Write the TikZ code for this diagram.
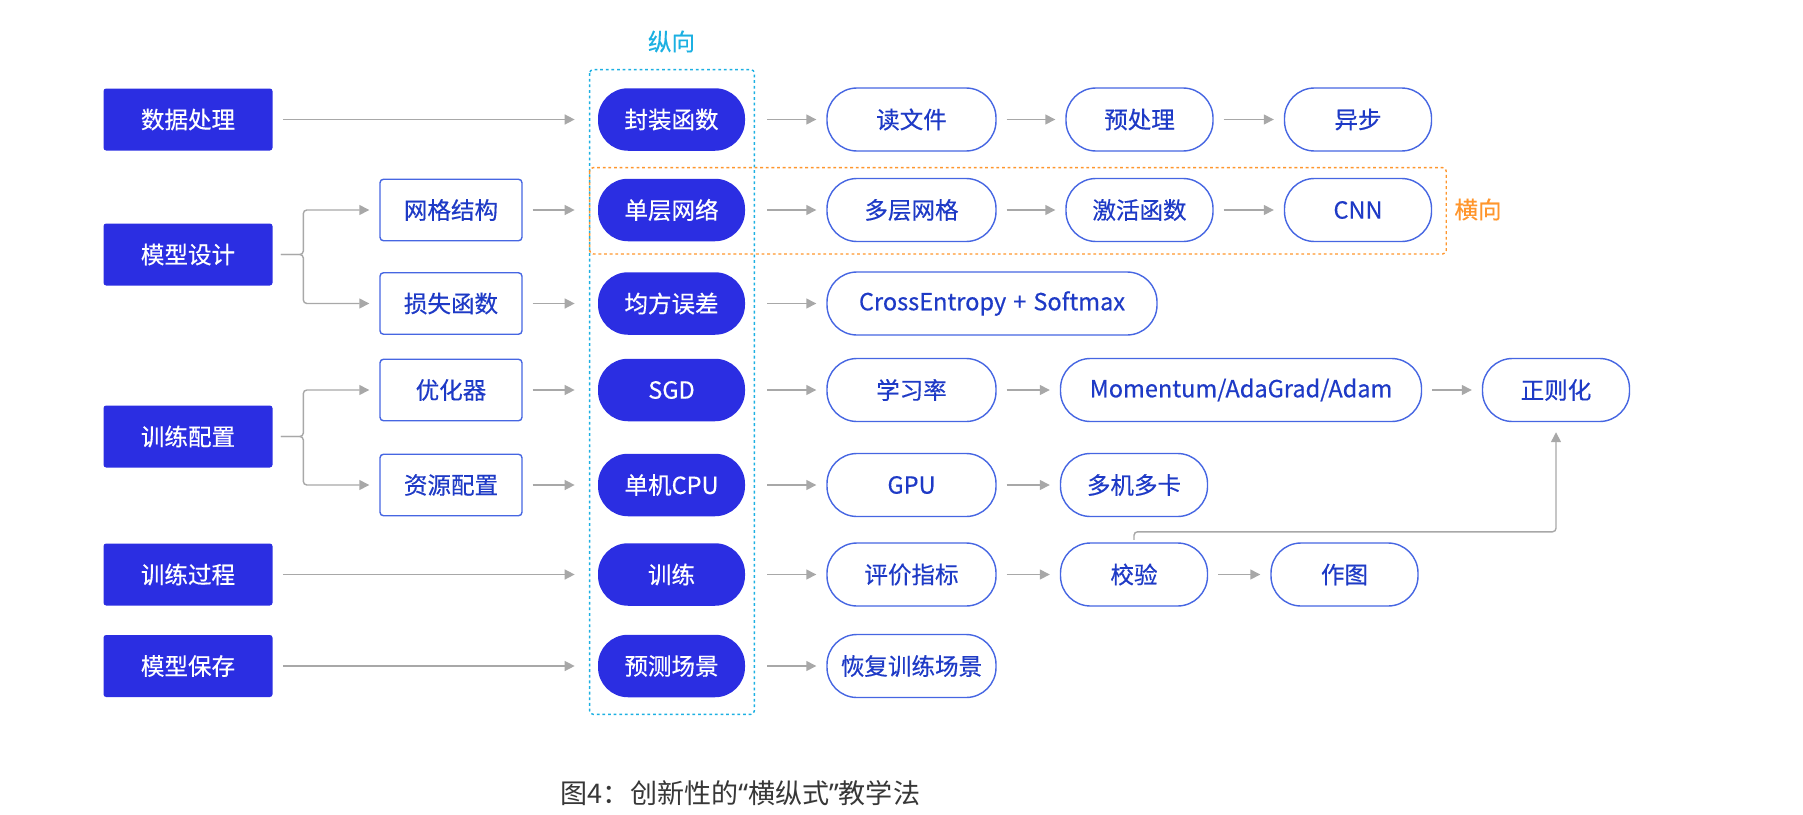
\documentclass[tikz,border=0pt]{standalone}
\usepackage{fontspec}
\setmainfont{Noto Sans CJK SC}
\newfontfamily\nodefont{Noto Sans CJK SC}[FakeBold=0.4]
\newfontfamily\quotefont{Noto Sans}
\usepackage{xcolor}
\usepackage{tikz}
\usetikzlibrary{arrows.meta,positioning,calc}
\definecolor{deepblue}{RGB}{43,46,226}
\definecolor{lineblue}{RGB}{70,102,226}
\definecolor{textblue}{RGB}{30,58,198}
\definecolor{arrowgray}{RGB}{168,168,168}
\definecolor{vcyan}{RGB}{28,176,226}
\definecolor{horange}{RGB}{255,150,45}
\definecolor{captiongray}{RGB}{55,55,55}

\begin{document}
\begin{tikzpicture}[font=\nodefont\fontsize{13.4}{16}\selectfont,
  topic/.style={fill=deepblue,text=white,rounded corners=1.5pt,minimum width=3.38cm,
                minimum height=1.24cm,inner sep=0pt},
  subbox/.style={draw=lineblue,line width=0.8pt,fill=white,text=textblue,rounded corners=2pt,
                minimum width=2.84cm,minimum height=1.23cm,inner sep=0pt},
  core/.style={fill=deepblue,text=white,rounded corners=0.6cm,minimum width=2.94cm,
                minimum height=1.25cm,inner sep=0pt},
  stagebox/.style={draw=lineblue,line width=0.8pt,fill=white,text=textblue,rounded corners=0.6cm,
                minimum width=2.94cm,minimum height=1.26cm,inner sep=0pt},
  arr/.style={-{Triangle[length=0.2cm,width=0.2cm]},arrowgray,line width=0.8pt,
                shorten <=0.2cm,shorten >=0.2cm}]
  \useasboundingbox (0,0) rectangle (36.06,-16.28);
  % left topics
  \node[topic] (l1) at (3.76,-2.39)  {数据处理};
  \node[topic] (l2) at (3.76,-5.09)  {模型设计};
  \node[topic] (l3) at (3.76,-8.73)  {训练配置};
  \node[topic] (l4) at (3.76,-11.49) {训练过程};
  \node[topic] (l5) at (3.76,-13.32) {模型保存};
  % second level
  \node[subbox] (s1) at (9.02,-4.20) {网格结构};
  \node[subbox] (s2) at (9.02,-6.07) {损失函数};
  \node[subbox] (s3) at (9.02,-7.80) {优化器};
  \node[subbox] (s4) at (9.02,-9.70) {资源配置};
  % vertical column
  \node[core] (v1) at (13.43,-2.39)  {封装函数};
  \node[core] (v2) at (13.43,-4.20)  {单层网络};
  \node[core] (v3) at (13.43,-6.07)  {均方误差};
  \node[core] (v4) at (13.43,-7.80)  {SGD};
  \node[core] (v5) at (13.43,-9.70)  {单机CPU};
  \node[core] (v6) at (13.43,-11.49) {训练};
  \node[core] (v7) at (13.43,-13.32) {预测场景};
  % horizontal chains
  \node[stagebox,minimum width=3.38cm] (a1) at (18.23,-2.39)  {读文件};
  \node[stagebox,minimum width=3.38cm] (a2) at (18.23,-4.20)  {多层网格};
  \node[stagebox,minimum width=6.6cm]  (a3) at (19.84,-6.07)
    {CrossEntropy\hspace{0.3em}+\hspace{0.3em}Softmax};
  \node[stagebox,minimum width=3.38cm] (a4) at (18.23,-7.80)  {学习率};
  \node[stagebox,minimum width=3.38cm] (a5) at (18.23,-9.70)  {GPU};
  \node[stagebox,minimum width=3.38cm] (a6) at (18.23,-11.49) {评价指标};
  \node[stagebox,minimum width=3.38cm] (a7) at (18.23,-13.32) {恢复训练场景};
  \node[stagebox] (b1) at (22.79,-2.39)  {预处理};
  \node[stagebox] (b2) at (22.79,-4.20)  {激活函数};
  \node[stagebox,minimum width=7.22cm] (b4) at (24.82,-7.80) {Momentum/AdaGrad/Adam};
  \node[stagebox] (b5) at (22.68,-9.70)  {多机多卡};
  \node[stagebox] (b6) at (22.68,-11.49) {校验};
  \node[stagebox] (c1) at (27.16,-2.39)  {异步};
  \node[stagebox] (c2) at (27.16,-4.20)  {CNN};
  \node[stagebox] (c4) at (31.12,-7.80)  {正则化};
  \node[stagebox] (c6) at (26.89,-11.49) {作图};
  % dashed frames and their labels
  \draw[vcyan,line width=0.8pt,dash pattern=on 1.6pt off 1.6pt,rounded corners=2pt]
    ($(v1.north west)+(-0.16,0.365)$) rectangle ($(v7.south east)+(0.18,-0.335)$);
  \draw[horange,line width=0.8pt,dash pattern=on 1.6pt off 1.6pt,rounded corners=2pt]
    ($(v2.north west)+(-0.16,0.215)$) rectangle ($(c2.south east)+(0.28,-0.235)$);
  \node[text=vcyan] (lv) at (13.43,-0.83) {纵向};
  \node[text=horange] (lh) at (29.56,-4.19) {横向};
  % connectors
  \coordinate (j2) at ($(l2.east)+(0.61,0)$);
  \coordinate (j3) at ($(l3.east)+(0.61,0)$);
  \foreach \s in {s1,s2} \draw[arr,shorten <=0.16cm,rounded corners=2pt] (l2.east) -- (j2) |- (\s.west);
  \foreach \s in {s3,s4} \draw[arr,shorten <=0.16cm,rounded corners=2pt] (l3.east) -- (j3) |- (\s.west);
  \foreach \l/\v in {l1/v1,l4/v6,l5/v7} \draw[arr,shorten >=0.46cm] (\l) -- (\v);
  \foreach \s/\v in {s1/v2,s2/v3,s3/v4,s4/v5} \draw[arr,shorten >=0.46cm] (\s) -- (\v);
  \foreach \i in {1,...,7} \draw[arr,shorten <=0.44cm] (v\i) -- (a\i);
  \foreach \a/\b in {a1/b1,b1/c1,a2/b2,b2/c2,a4/b4,b4/c4,a5/b5,a6/b6,b6/c6} \draw[arr] (\a) -- (\b);
  \draw[arr,shorten <=0.05cm,rounded corners=2pt] (b6.north) -- ++(0,0.21) -| (c4.south);
  % caption
  \node[text=captiongray,font=\rmfamily\fontsize{15.4}{18}\selectfont] (cap) at (14.81,-15.87)
    {图4：创新性的{\quotefont“}横纵式{\quotefont”}教学法};
\end{tikzpicture}
\end{document}
